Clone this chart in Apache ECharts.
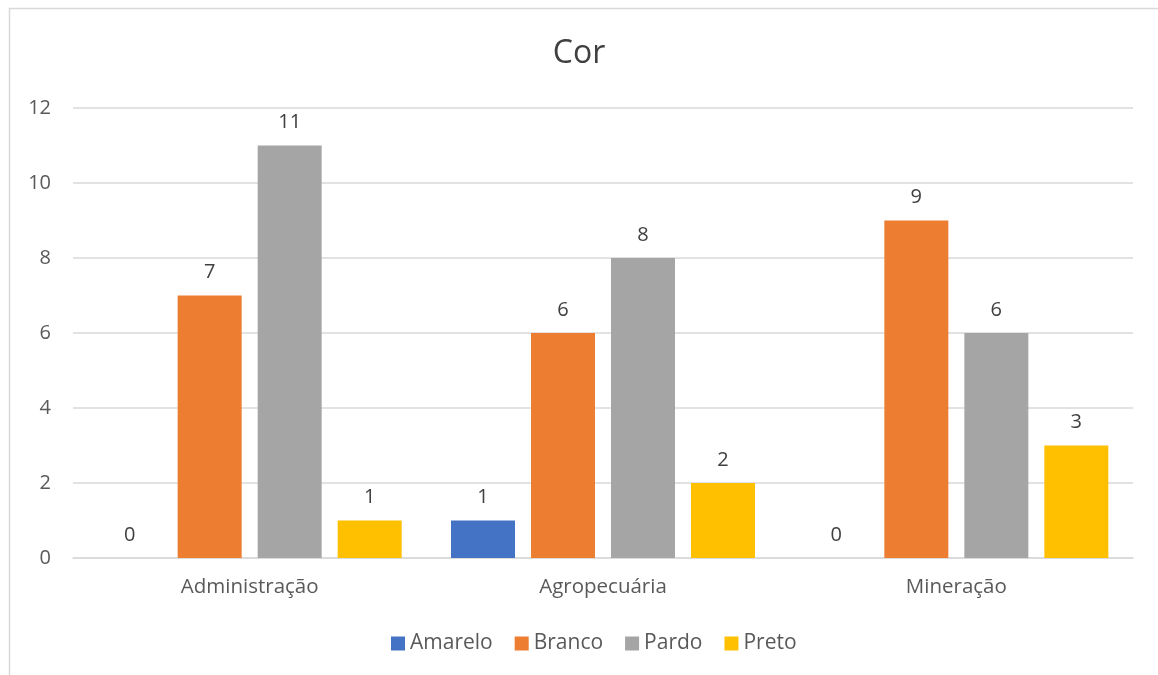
<!DOCTYPE html>
<html><head><meta charset="utf-8">
<script src="https://cdn.jsdelivr.net/npm/echarts@6/dist/echarts.min.js"></script>
<style>html,body{margin:0;padding:0;background:#fff}#c{width:1158px;height:675px}</style>
</head><body><div id="c"></div>
<script>
const categories = ['Administração', 'Agropecuária', 'Mineração'];
const amarelo = [0, 1, 0];
const branco = [7, 6, 9];
const pardo = [11, 8, 6];
const preto = [1, 2, 3];
const seriesNames = ['Amarelo', 'Branco', 'Pardo', 'Preto'];
const colors = ['#4472C4', '#ED7D31', '#A5A5A5', '#FFC000'];
const font = '"Open Sans", "Liberation Sans", sans-serif';

const chart = echarts.init(document.getElementById('c'));
const mk = (name, data, i) => ({
  name, type: 'bar', data, barWidth: 64, barGap: '25%',
  itemStyle: { color: colors[i] },
  label: { show: true, position: 'top', distance: 13, color: '#404040', fontSize: 20, fontFamily: font }
});
chart.setOption({
  animation: false,
  title: { text: 'Cor', left: 'center', top: 33, textStyle: { fontSize: 32, fontWeight: 'normal', color: '#404040', fontFamily: font } },
  graphic: [{ type: 'rect', shape: { x: 9.5, y: 8.5, width: 1200, height: 700 }, style: { fill: 'none', stroke: '#D9D9D9', lineWidth: 1.5 } }],
  grid: { left: 73, right: 25, top: 108, bottom: 117 },
  legend: { bottom: 16, left: 386, itemWidth: 14, itemHeight: 14, itemGap: 22, icon: 'rect',
    textStyle: { fontSize: 21, color: '#595959', fontFamily: font }, data: seriesNames },
  xAxis: { type: 'category', data: categories, axisTick: { show: false },
    axisLine: { lineStyle: { color: '#D9D9D9', width: 1.5 } },
    axisLabel: { fontSize: 20.5, color: '#595959', fontFamily: font, margin: 19 } },
  yAxis: { type: 'value', min: 0, max: 12, interval: 2,
    axisLine: { show: false }, axisTick: { show: false },
    splitLine: { lineStyle: { color: '#D9D9D9', width: 1.5 } },
    axisLabel: { fontSize: 20, color: '#595959', fontFamily: font, margin: 22 } },
  series: [mk('Amarelo', amarelo, 0), mk('Branco', branco, 1), mk('Pardo', pardo, 2), mk('Preto', preto, 3)]
});
</script></body></html>
